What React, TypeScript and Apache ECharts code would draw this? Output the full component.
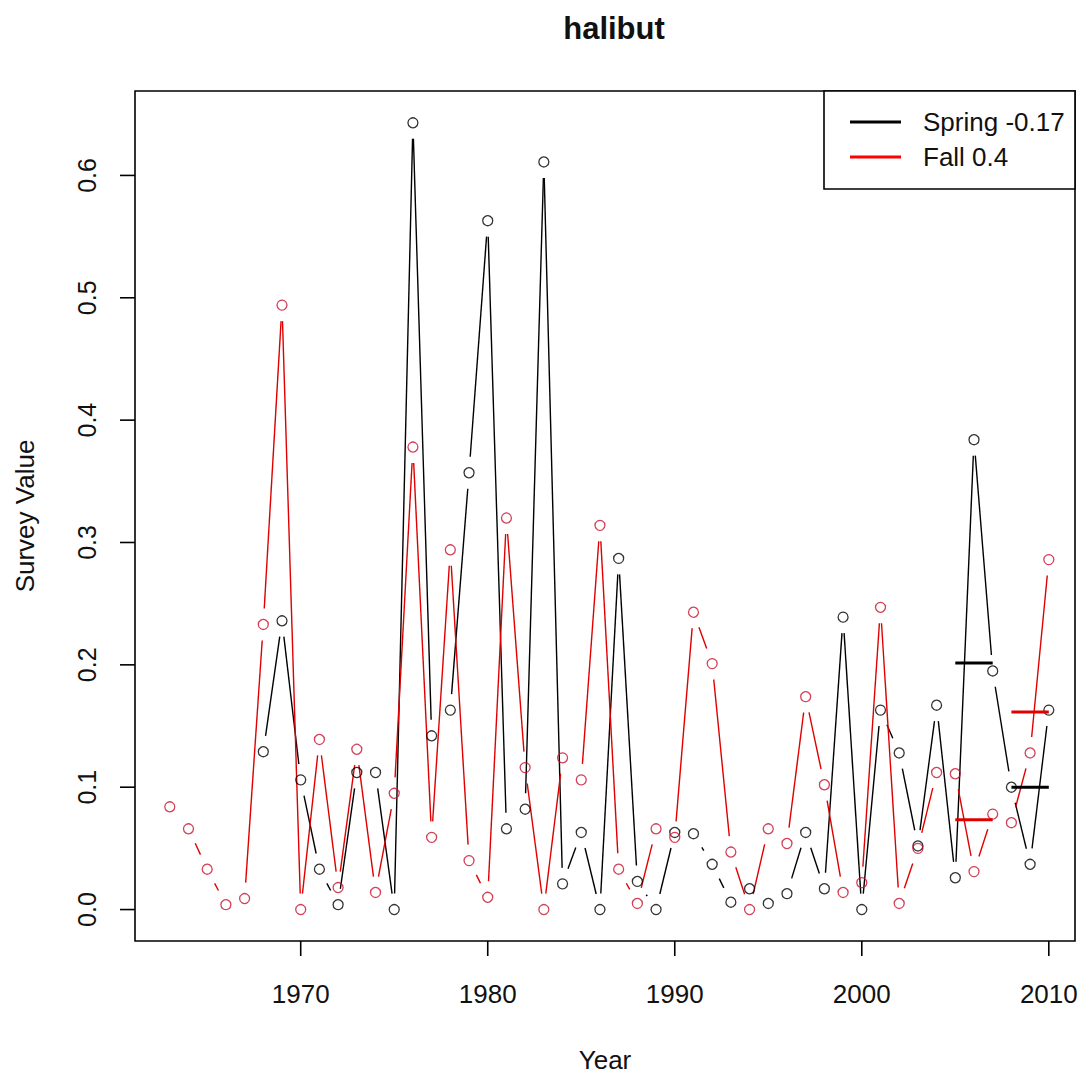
import React, { useEffect, useRef } from "react";
import * as echarts from "echarts";

const fallYears = [
  1963, 1964, 1965, 1966, 1967, 1968, 1969, 1970, 1971, 1972, 1973, 1974,
  1975, 1976, 1977, 1978, 1979, 1980, 1981, 1982, 1983, 1984, 1985, 1986,
  1987, 1988, 1989, 1990, 1991, 1992, 1993, 1994, 1995, 1996, 1997, 1998,
  1999, 2000, 2001, 2002, 2003, 2004, 2005, 2006, 2007, 2008, 2009, 2010,
];
const fallValues = [
  0.084, 0.066, 0.033, 0.004, 0.009, 0.233, 0.494, 0.0, 0.139, 0.018, 0.131,
  0.014, 0.095, 0.378, 0.059, 0.294, 0.04, 0.01, 0.32, 0.116, 0.0, 0.124,
  0.106, 0.314, 0.033, 0.005, 0.066, 0.059, 0.243, 0.201, 0.047, 0.0, 0.066,
  0.054, 0.174, 0.102, 0.014, 0.022, 0.247, 0.005, 0.05, 0.112, 0.111, 0.031,
  0.078, 0.071, 0.128, 0.286,
];
const springYears = [
  1968, 1969, 1970, 1971, 1972, 1973, 1974, 1975, 1976, 1977, 1978, 1979,
  1980, 1981, 1982, 1983, 1984, 1985, 1986, 1987, 1988, 1989, 1990, 1991,
  1992, 1993, 1994, 1995, 1996, 1997, 1998, 1999, 2000, 2001, 2002, 2003,
  2004, 2005, 2006, 2007, 2008, 2009, 2010,
];
const springValues = [
  0.129, 0.236, 0.106, 0.033, 0.004, 0.112, 0.112, 0.0, 0.643, 0.142, 0.163,
  0.357, 0.563, 0.066, 0.082, 0.611, 0.021, 0.063, 0.0, 0.287, 0.023, 0.0,
  0.063, 0.062, 0.037, 0.006, 0.017, 0.005, 0.013, 0.063, 0.017, 0.239, 0.0,
  0.163, 0.128, 0.052, 0.167, 0.026, 0.384, 0.195, 0.1, 0.037, 0.163,
];
const periodStart = [2005, 2008];
const periodEnd = [2007, 2010];
const springMeans = [0.2015, 0.1];
const fallMeans = [0.0733, 0.1615];
const xTicks = [1970, 1980, 1990, 2000, 2010];
const yTicks = [0, 0.1, 0.2, 0.3, 0.4, 0.5, 0.6];
const seriesNames = ["Spring -0.17", "Fall 0.4"];

const X_MIN = 1961.14;
const X_MAX = 2011.4;
const Y_MIN = -0.0257;
const Y_MAX = 0.669;

const BLACK = "#000000";
const RED = "#e00000";
const FONT = "Liberation Sans, Arial, sans-serif";
const TICK_LEN = 15;

function toSegments(xs: number[], ys: number[]) {
  const out: number[][] = [];
  for (let i = 0; i < xs.length - 1; i++) out.push([xs[i], ys[i], xs[i + 1], ys[i + 1]]);
  return out;
}

function gapRenderer(color: string) {
  return (_params: any, api: any) => {
    const p1 = api.coord([api.value(0), api.value(1)]);
    const p2 = api.coord([api.value(2), api.value(3)]);
    const dx = p2[0] - p1[0];
    const dy = p2[1] - p1[1];
    const d = Math.hypot(dx, dy);
    const gap = 16;
    if (d <= 2 * gap) return { type: "group", children: [] };
    const ux = dx / d;
    const uy = dy / d;
    return {
      type: "line",
      shape: {
        x1: p1[0] + ux * gap,
        y1: p1[1] + uy * gap,
        x2: p2[0] - ux * gap,
        y2: p2[1] - uy * gap,
      },
      style: { stroke: color, lineWidth: 1.4 },
    };
  };
}

function tickRenderer(dir: "down" | "left") {
  return (_p: any, api: any) => {
    const p = api.coord([api.value(0), api.value(1)]);
    const shape =
      dir === "down"
        ? { x: p[0] - 0.8, y: p[1], width: 1.6, height: TICK_LEN }
        : { x: p[0] - TICK_LEN, y: p[1] - 0.8, width: TICK_LEN, height: 1.6 };
    return { type: "rect", shape, style: { fill: BLACK } };
  };
}

function meanSeries(values: number[], color: string, name: string) {
  return periodStart.map((s, i) => ({
    type: "line",
    name,
    data: [
      [s, values[i]],
      [periodEnd[i], values[i]],
    ],
    symbol: "none",
    lineStyle: { color, width: 3 },
    silent: true,
    z: 5,
  }));
}

export default function App() {
  const ref = useRef<HTMLDivElement>(null);
  useEffect(() => {
    document.body.style.margin = "0";
    const chart = echarts.init(ref.current!, null, { renderer: "svg" });
    const textBase = { color: "#111", fontFamily: FONT };
    chart.setOption({
      animation: false,
      backgroundColor: "#ffffff",
      title: {
        text: "halibut",
        left: 609,
        top: 8,
        textAlign: "center",
        textStyle: { ...textBase, fontSize: 31, fontWeight: "bold" },
      },
      grid: {
        left: 135,
        top: 91,
        width: 940,
        height: 850,
        show: true,
        borderColor: "#000",
        borderWidth: 1.6,
        containLabel: false,
      },
      xAxis: {
        type: "value",
        position: "bottom",
        min: X_MIN,
        max: X_MAX,
        name: "Year",
        nameLocation: "middle",
        nameGap: 106,
        nameTextStyle: { ...textBase, fontSize: 26 },
        axisLine: { show: false, onZero: false },
        splitLine: { show: false },
        axisTick: { show: false },
        axisLabel: {
          customValues: xTicks,
          margin: 40,
          fontSize: 26,
          ...textBase,
          formatter: (v: number) => String(v),
        },
      },
      yAxis: {
        type: "value",
        position: "left",
        min: Y_MIN,
        max: Y_MAX,
        name: "Survey Value",
        nameLocation: "middle",
        nameGap: 97,
        nameTextStyle: { ...textBase, fontSize: 26 },
        axisLine: { show: false, onZero: false },
        splitLine: { show: false },
        axisTick: { show: false },
        axisLabel: {
          customValues: yTicks,
          rotate: 90,
          margin: 36,
          fontSize: 25,
          ...textBase,
          formatter: (v: number) => v.toFixed(1),
        },
      },
      series: [
        {
          type: "custom",
          name: "x ticks",
          clip: false,
          silent: true,
          data: xTicks.map((t) => [t, Y_MIN]),
          encode: { x: 0, y: 1 },
          renderItem: tickRenderer("down"),
          z: 20,
        },
        {
          type: "custom",
          name: "y ticks",
          clip: false,
          silent: true,
          data: yTicks.map((t) => [X_MIN, t]),
          encode: { x: 0, y: 1 },
          renderItem: tickRenderer("left"),
          z: 20,
        },
        {
          type: "custom",
          name: seriesNames[0],
          renderItem: gapRenderer(BLACK),
          data: toSegments(springYears, springValues),
          encode: { x: [0, 2], y: [1, 3] },
          silent: true,
          z: 2,
        },
        {
          type: "scatter",
          name: seriesNames[0],
          data: springYears.map((y, i) => [y, springValues[i]]),
          symbol: "circle",
          symbolSize: 10,
          itemStyle: { color: "rgba(0,0,0,0)", borderColor: BLACK, borderWidth: 1.3 },
          silent: true,
          z: 3,
        },
        {
          type: "custom",
          name: seriesNames[1],
          renderItem: gapRenderer(RED),
          data: toSegments(fallYears, fallValues),
          encode: { x: [0, 2], y: [1, 3] },
          silent: true,
          z: 2,
        },
        {
          type: "scatter",
          name: seriesNames[1],
          data: fallYears.map((y, i) => [y, fallValues[i]]),
          symbol: "circle",
          symbolSize: 10,
          itemStyle: { color: "rgba(0,0,0,0)", borderColor: "#c8102e", borderWidth: 1.3 },
          silent: true,
          z: 3,
        },
        ...meanSeries(springMeans, BLACK, "Spring mean"),
        ...meanSeries(fallMeans, RED, "Fall mean"),
      ],
      graphic: [
        {
          type: "rect",
          shape: { x: 824, y: 91, width: 251, height: 98 },
          style: { fill: "#fff", stroke: "#000", lineWidth: 1.6 },
          z: 10,
        },
        {
          type: "line",
          shape: { x1: 850, y1: 122, x2: 901, y2: 122 },
          style: { stroke: BLACK, lineWidth: 3 },
          z: 11,
        },
        {
          type: "line",
          shape: { x1: 850, y1: 157, x2: 901, y2: 157 },
          style: { stroke: "#ff0000", lineWidth: 3 },
          z: 11,
        },
        {
          type: "text",
          x: 923,
          y: 122,
          style: { text: seriesNames[0], fontSize: 26, fontFamily: FONT, fill: "#111", verticalAlign: "middle" },
          z: 11,
        },
        {
          type: "text",
          x: 923,
          y: 157,
          style: { text: seriesNames[1], fontSize: 26, fontFamily: FONT, fill: "#111", verticalAlign: "middle" },
          z: 11,
        },
      ],
    });
    return () => chart.dispose();
  }, []);
  return <div ref={ref} style={{ width: 1086, height: 1078 }} />;
}
